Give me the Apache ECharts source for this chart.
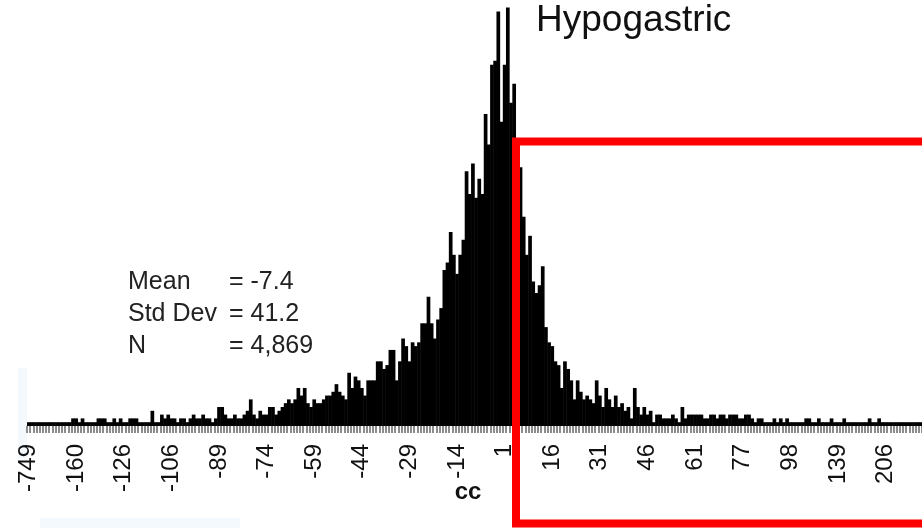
<!DOCTYPE html>
<html>
<head>
<meta charset="utf-8">
<title>Hypogastric</title>
<script src="https://cdn.jsdelivr.net/npm/echarts@6.0.0/dist/echarts.min.js"></script>
<style>
  html, body { margin: 0; padding: 0; background: #fff; }
  #chart { width: 922px; height: 528px; }
</style>
</head>
<body>
<div id="chart"></div>
<script>
// cc values (one bar per observed value)
const categories = [
  -749, -561, -402, -318, -277, -251, -232, -219, -207, -196, -187, -179, -172, -167, -163,
  -160, -158, -156, -154, -152, -150, -148, -146, -144, -142, -140, -137, -134, -131, -128,
  -126, -125, -124, -122, -121, -120, -119, -117, -116, -115, -113, -112, -110, -109, -107,
  -106, -105, -104, -103, -102, -101, -100, -99, -98, -97, -96, -95, -93, -92, -90,
  -89, -88, -87, -86, -85, -84, -83, -82, -81, -80, -79, -78, -77, -76, -75,
  -74, -73, -72, -71, -70, -69, -68, -67, -66, -65, -64, -63, -62, -61, -60,
  -59, -58, -57, -56, -55, -54, -53, -52, -51, -50, -49, -48, -47, -46, -45,
  -44, -43, -42, -41, -40, -39, -38, -37, -36, -35, -34, -33, -32, -31, -30,
  -29, -28, -27, -26, -25, -24, -23, -22, -21, -20, -19, -18, -17, -16, -15,
  -14, -13, -12, -11, -10, -9, -8, -7, -6, -5, -4, -3, -2, -1, 0,
  1, 2, 3, 4, 5, 6, 7, 8, 9, 10, 11, 12, 13, 14, 15,
  16, 17, 18, 19, 20, 21, 22, 23, 24, 25, 26, 27, 28, 29, 30,
  31, 32, 33, 34, 35, 36, 37, 38, 39, 40, 41, 42, 43, 44, 45,
  46, 47, 48, 49, 50, 51, 52, 53, 54, 55, 56, 57, 58, 59, 60,
  61, 62, 63, 64, 65, 66, 67, 68, 69, 70, 71, 72, 73, 74, 76,
  77, 78, 79, 80, 81, 83, 84, 85, 86, 88, 89, 91, 93, 95, 96,
  98, 100, 102, 104, 106, 108, 110, 113, 115, 118, 121, 124, 128, 131, 135,
  139, 142, 145, 148, 152, 156, 160, 164, 168, 173, 178, 184, 190, 196, 201,
  206, 213, 222, 231, 245, 262, 281, 310, 352, 405, 498, 641
]

// frequency of each value
const counts = [
  1, 1, 1, 1, 1, 1, 1, 1, 1, 1, 1, 1, 1, 1,
  2, 2, 1, 2, 1, 1, 1, 1, 2, 2, 2, 1, 1, 2, 1, 2,
  1, 1, 2, 2, 2, 1, 1, 1, 1, 4, 1, 1, 3, 2, 3, 2, 2, 1,
  2, 2, 1, 2, 3, 2, 2, 3, 2, 2, 1, 2,
  5, 5, 3, 2, 2, 3, 2, 2, 3, 4,
  7, 3, 2, 4, 3, 3, 5, 5, 3, 4,
  5, 6, 7, 6, 7, 10, 8, 10, 6, 5,
  7, 6, 6, 7, 8, 8, 9, 11, 9, 8,
  7, 14, 10, 13, 12, 10, 8, 12, 12, 12,
  17, 17, 15, 16, 20, 20, 12, 17, 23, 21,
  17, 22, 21, 22, 27, 27, 34, 27, 23, 28,
  31, 41, 43, 51, 45, 40, 45, 49, 67, 61,
  69, 60, 65, 61, 82, 74, 95, 96, 109, 80,
  95, 110, 85, 90, 75, 68, 55, 45, 50, 38,
  35, 37, 42, 26, 22, 21, 17, 16, 10, 17,
  15, 12, 7, 12, 9, 7, 8, 7, 6, 12,
  8, 5, 10, 7, 5, 8, 5, 6, 4, 5,
  2, 10, 5, 3, 5, 3, 4, 1, 3, 3,
  2, 2, 2, 3, 2, 1, 5, 2, 3,
  3, 3, 3, 3, 2, 2, 3, 3, 2, 3,
  3, 2, 3, 3, 3, 2, 2, 3, 3, 2,
  1, 2, 2, 1, 1, 1, 2, 1, 2, 1, 2, 1,
  1, 1, 1, 1, 2, 2, 1, 1, 2, 1,
  1, 1, 2, 1, 1, 1, 2, 1, 1, 1,
  1, 1, 1, 1, 2, 1, 1, 2, 1, 1,
  1, 1, 1, 1, 1, 1, 1, 1, 1, 1, 1
]

const tickLabels = [-749, -160, -126, -106, -89, -74, -59, -44, -29, -14, 1, 16, 31, 46, 61, 77, 98, 139, 206]

const stats = [
  ['Mean', '= -7.4'],
  ['Std Dev', '= 41.2'],
  ['N', '= 4,869']
]

const FONT = '"Liberation Sans", Arial, sans-serif'

const myChart = echarts.init(document.getElementById('chart'))

let statText = []
stats.forEach(function (row, i) {
  statText.push({
    type: 'text', x: 128, y: 270 + i * 31.8, z: 10,
    style: { text: row[0], fontSize: 25, fontFamily: FONT, fill: '#222', verticalAlign: 'top' }
  })
  statText.push({
    type: 'text', x: 229, y: 270 + i * 31.8, z: 10,
    style: { text: row[1], fontSize: 25, fontFamily: FONT, fill: '#222', verticalAlign: 'top' }
  })
})

myChart.setOption({
  animation: false,
  backgroundColor: '#fff',
  grid: {
    left: 27,
    right: 0,
    top: 0,
    bottom: 102
  },
  xAxis: {
    type: 'category',
    data: categories.map(String),
    axisLine: { show: false },
    axisTick: {
      show: true,
      interval: 0,
      length: 7,
      lineStyle: { color: '#8c8c8c', width: 2 }
    },
    axisLabel: {
      interval: function (idx, value) {
        return tickLabels.indexOf(Number(value)) > -1
      },
      rotate: 90,
      margin: 18,
      fontSize: 24,
      fontFamily: FONT,
      color: '#111'
    }
  },
  yAxis: {
    type: 'value',
    min: 0,
    max: 112,
    show: false,
    splitLine: { show: false }
  },
  series: [{
    type: 'bar',
    data: counts,
    barWidth: 3.7,
    itemStyle: { color: '#000' }
  }],
  graphic: [
    {
      type: 'rect', z: 0,
      shape: { x: 18, y: 368, width: 9, height: 90 },
      style: { fill: '#f4f9fd' }
    },
    {
      type: 'rect', z: 0,
      shape: { x: 40, y: 518, width: 200, height: 10 },
      style: { fill: '#f4f9fd' }
    },
    {
      type: 'text', x: 536, y: 2, z: 10,
      style: { text: 'Hypogastric', fontSize: 37, fontFamily: FONT, fill: '#111', verticalAlign: 'top' }
    },
    {
      type: 'text', x: 468, y: 480, z: 10,
      style: { text: 'cc', fontSize: 24, fontWeight: 'bold', fontFamily: FONT, fill: '#111', align: 'center', verticalAlign: 'top' }
    },
    {
      type: 'rect', z: 20,
      shape: { x: 516, y: 141.5, width: 440, height: 382 },
      style: { fill: 'none', stroke: '#ff0000', lineWidth: 8 }
    }
  ].concat(statText)
})

window.addEventListener('resize', function () {
  myChart.resize()
})
</script>
</body>
</html>
